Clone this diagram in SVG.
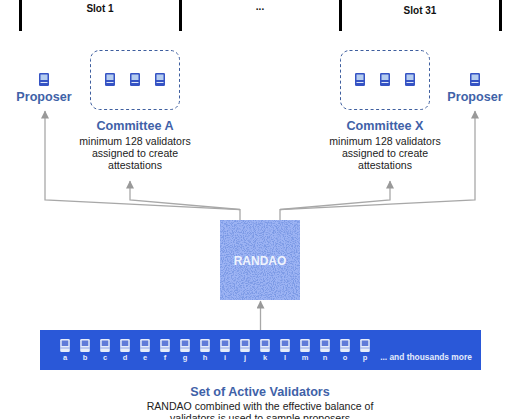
<svg xmlns="http://www.w3.org/2000/svg" width="520" height="419" viewBox="0 0 520 419">
<style>
text{font-family:"Liberation Sans",Arial,sans-serif;text-anchor:middle}
.slot{font-size:10px;font-weight:bold;fill:#111}
.tick{stroke:#000;stroke-width:3;fill:none}
.head{font-size:12.600px;font-weight:bold;fill:#3f62a8}
.body{font-size:10.550px;fill:#222}
.box{fill:none;stroke:#3f5f9f;stroke-width:1;stroke-dasharray:3 2.500}
.conn{fill:none;stroke:#a8a8a8;stroke-width:1.300}
.lab{font-size:7.500px;font-weight:bold;fill:#e4ebfb}
.more{font-size:8.400px;font-weight:bold;fill:#e4ebfb}
</style>
<defs>
<marker id="arr" markerWidth="9" markerHeight="9" refX="7.500" refY="4" orient="auto" markerUnits="userSpaceOnUse"><path d="M0 0L8 4L0 8Z" fill="#999"/></marker>
<g id="v"><rect x="-5" y="-6.500" width="10" height="13" rx="1.300" fill="#3553c4"/><rect x="-3.500" y="-5" width="7" height="5.500" fill="#b5cdf0"/><rect x="-3.500" y="2.500" width="7" height="1" fill="#dce6fa"/></g>
<g id="w"><rect x="-4.800" y="-6.500" width="9.600" height="13" rx="1.300" fill="#e6edfa"/><rect x="-3.300" y="-5" width="6.600" height="5.500" fill="#5f7bd8"/><rect x="-4.800" y="2" width="9.600" height="1" fill="#8fa5e4"/></g>
<filter id="noise" x="0" y="0" width="100%" height="100%"><feTurbulence type="fractalNoise" baseFrequency="0.9" numOctaves="2" seed="4" result="n"/><feColorMatrix in="n" type="matrix" values="0 0 0 0 0.2 0 0 0 0 0.32 0 0 0 0 0.78 5 0 0 0 -2.200"/><feComposite in2="SourceGraphic" operator="in" result="c"/><feMerge><feMergeNode in="SourceGraphic"/><feMergeNode in="c"/></feMerge></filter>
</defs>
<g id="connectors">
<path class="conn" marker-end="url(#arr)" d="M240 220V209.500L45 200V111"/>
<path class="conn" marker-end="url(#arr)" d="M240 209.500L130 200V181"/>
<path class="conn" marker-end="url(#arr)" d="M280 220V209.500L475 200V111"/>
<path class="conn" marker-end="url(#arr)" d="M280 209.500L390 200V181"/>
<path class="conn" marker-end="url(#arr)" d="M260.500 330V301"/>
</g>
<g id="slots">
<path class="tick" d="M20.500 0V31M180.500 0V31M340.500 0V31M500.500 0V31"/>
<text class="slot" x="100" y="12">Slot 1</text>
<text class="slot" x="260" y="10">...</text>
<text class="slot" x="420" y="14">Slot 31</text>
</g>
<g id="proposer-left"><use href="#v" x="44" y="79.500"/><text class="head" x="44" y="101">Proposer</text></g>
<g id="committee-a">
<rect class="box" x="90.500" y="50.500" width="89" height="59" rx="9"/>
<use href="#v" x="110" y="79.500"/><use href="#v" x="135" y="79.500"/><use href="#v" x="160" y="79.500"/>
<text class="head" x="135" y="130">Committee A</text>
<text class="body" x="135" y="144.500">minimum 128 validators</text><text class="body" x="135" y="156.500">assigned to create</text><text class="body" x="135" y="168.500">attestations</text>
</g>
<g id="committee-x">
<rect class="box" x="340.500" y="50.500" width="89" height="59" rx="9"/>
<use href="#v" x="360" y="79.500"/><use href="#v" x="385" y="79.500"/><use href="#v" x="410" y="79.500"/>
<text class="head" x="385" y="130">Committee X</text>
<text class="body" x="385" y="144.500">minimum 128 validators</text><text class="body" x="385" y="156.500">assigned to create</text><text class="body" x="385" y="168.500">attestations</text>
</g>
<g id="proposer-right"><use href="#v" x="475" y="79.500"/><text class="head" x="475" y="101">Proposer</text></g>
<g id="randao">
<rect x="220" y="220" width="80" height="80" fill="#9db4f4" filter="url(#noise)"/>
<text x="260" y="265" font-size="12" font-weight="bold" fill="#eef3fd">RANDAO</text>
</g>
<g id="validators">
<rect x="40" y="330" width="441" height="40" fill="#2a58d8"/>
<use href="#w" x="65" y="345.500"/><text class="lab" x="65" y="360">a</text>
<use href="#w" x="85" y="345.500"/><text class="lab" x="85" y="360">b</text>
<use href="#w" x="105" y="345.500"/><text class="lab" x="105" y="360">c</text>
<use href="#w" x="125" y="345.500"/><text class="lab" x="125" y="360">d</text>
<use href="#w" x="145" y="345.500"/><text class="lab" x="145" y="360">e</text>
<use href="#w" x="165" y="345.500"/><text class="lab" x="165" y="360">f</text>
<use href="#w" x="185" y="345.500"/><text class="lab" x="185" y="360">g</text>
<use href="#w" x="205" y="345.500"/><text class="lab" x="205" y="360">h</text>
<use href="#w" x="225" y="345.500"/><text class="lab" x="225" y="360">i</text>
<use href="#w" x="245" y="345.500"/><text class="lab" x="245" y="360">j</text>
<use href="#w" x="265" y="345.500"/><text class="lab" x="265" y="360">k</text>
<use href="#w" x="285" y="345.500"/><text class="lab" x="285" y="360">l</text>
<use href="#w" x="305" y="345.500"/><text class="lab" x="305" y="360">m</text>
<use href="#w" x="325" y="345.500"/><text class="lab" x="325" y="360">n</text>
<use href="#w" x="345" y="345.500"/><text class="lab" x="345" y="360">o</text>
<use href="#w" x="365" y="345.500"/><text class="lab" x="365" y="360">p</text>
<text class="more" x="426" y="360">... and thousands more</text>
</g>
<g id="active-set">
<text class="head" x="260" y="396">Set of Active Validators</text>
<text class="body" x="260" y="410">RANDAO combined with the effective balance of</text>
<text class="body" x="260" y="422">validators is used to sample proposers</text>
</g>
</svg>
